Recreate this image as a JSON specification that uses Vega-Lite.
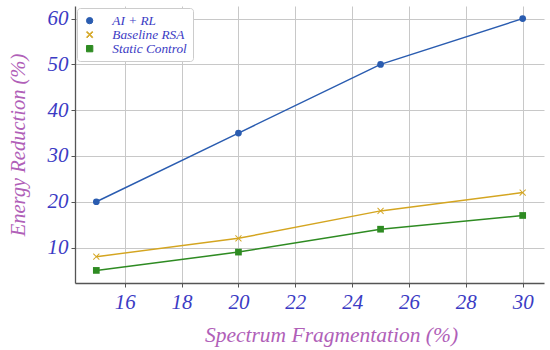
{
  "$schema": "https://vega.github.io/schema/vega-lite/v6.json",
  "width": 469,
  "height": 277,
  "autosize": {"type": "none"},
  "padding": {"left": 75, "top": 6, "right": 6, "bottom": 67},
  "background": "white",
  "config": {
    "view": {"stroke": null},
    "font": "Liberation Serif"
  },
  "data": {
    "values": [
      {"frag": 15, "reduction": 20, "method": "AI + RL"},
      {"frag": 20, "reduction": 35, "method": "AI + RL"},
      {"frag": 25, "reduction": 50, "method": "AI + RL"},
      {"frag": 30, "reduction": 60, "method": "AI + RL"},
      {"frag": 15, "reduction": 8, "method": "Baseline RSA"},
      {"frag": 20, "reduction": 12, "method": "Baseline RSA"},
      {"frag": 25, "reduction": 18, "method": "Baseline RSA"},
      {"frag": 30, "reduction": 22, "method": "Baseline RSA"},
      {"frag": 15, "reduction": 5, "method": "Static Control"},
      {"frag": 20, "reduction": 9, "method": "Static Control"},
      {"frag": 25, "reduction": 14, "method": "Static Control"},
      {"frag": 30, "reduction": 17, "method": "Static Control"}
    ]
  },
  "encoding": {
    "x": {
      "field": "frag", "type": "quantitative",
      "scale": {"domain": [14.25, 30.75], "nice": false, "zero": false},
      "axis": {
        "title": "Spectrum Fragmentation (%)",
        "values": [16, 18, 20, 22, 24, 26, 28, 30],
        "grid": true, "gridColor": "#c8c8c8", "gridWidth": 1,
        "domainColor": "#555", "domainWidth": 1.3,
        "tickColor": "#555", "tickSize": 4,
        "labelFont": "Liberation Serif", "labelFontStyle": "italic", "labelFontSize": 21,
        "labelColor": "#3b3bc4", "labelPadding": 4,
        "titleFont": "Liberation Serif", "titleFontStyle": "italic", "titleFontWeight": "normal",
        "titleFontSize": 21.5, "titleColor": "#b060b8", "titlePadding": 12, "titleX": 256
      }
    },
    "y": {
      "field": "reduction", "type": "quantitative",
      "scale": {"domain": [2.25, 62.75], "nice": false, "zero": false},
      "axis": {
        "title": "Energy Reduction (%)",
        "values": [10, 20, 30, 40, 50, 60],
        "grid": true, "gridColor": "#c8c8c8", "gridWidth": 1,
        "domainColor": "#555", "domainWidth": 1.3,
        "tickColor": "#555", "tickSize": 4,
        "labelFont": "Liberation Serif", "labelFontStyle": "italic", "labelFontSize": 21,
        "labelColor": "#3b3bc4", "labelPadding": 3,
        "titleFont": "Liberation Serif", "titleFontStyle": "italic", "titleFontWeight": "normal",
        "titleFontSize": 20.5, "titleColor": "#b060b8", "titlePadding": 19
      }
    },
    "color": {
      "field": "method", "type": "nominal",
      "scale": {"domain": ["AI + RL", "Baseline RSA", "Static Control"], "range": ["#2a5cb0", "#d4a520", "#2e8b22"]},
      "legend": {
        "title": null, "orient": "top-left", "offset": 2,
        "labelFont": "Liberation Serif", "labelFontStyle": "italic", "labelFontSize": 13.3,
        "labelColor": "#3b3bc4", "labelOffset": 16,
        "symbolSize": 40, "symbolStrokeWidth": 1,
        "rowPadding": 0, "padding": 6,
        "strokeColor": "#cccccc", "fillColor": "white", "cornerRadius": 3,
        "encode": {
          "symbols": {
            "update": {
              "stroke": {"scale": "color", "field": "value"},
              "fill": {"scale": "color", "field": "value"},
              "strokeWidth": {"value": 1},
              "opacity": {"value": 1}
            }
          }
        }
      }
    }
  },
  "layer": [
    {
      "mark": {"type": "line", "strokeWidth": 1.5}
    },
    {
      "mark": {"type": "point", "filled": true, "opacity": 1},
      "encoding": {
        "shape": {
          "field": "method", "type": "nominal",
          "scale": {"domain": ["AI + RL", "Baseline RSA", "Static Control"], "range": [
            "circle",
            "M-1,-0.8L-0.8,-1L0,-0.2L0.8,-1L1,-0.8L0.2,0L1,0.8L0.8,1L0,0.2L-0.8,1L-1,0.8L-0.2,0Z",
            "square"]},
          "legend": null
        },
        "size": {"value": 45}
      }
    }
  ]
}
